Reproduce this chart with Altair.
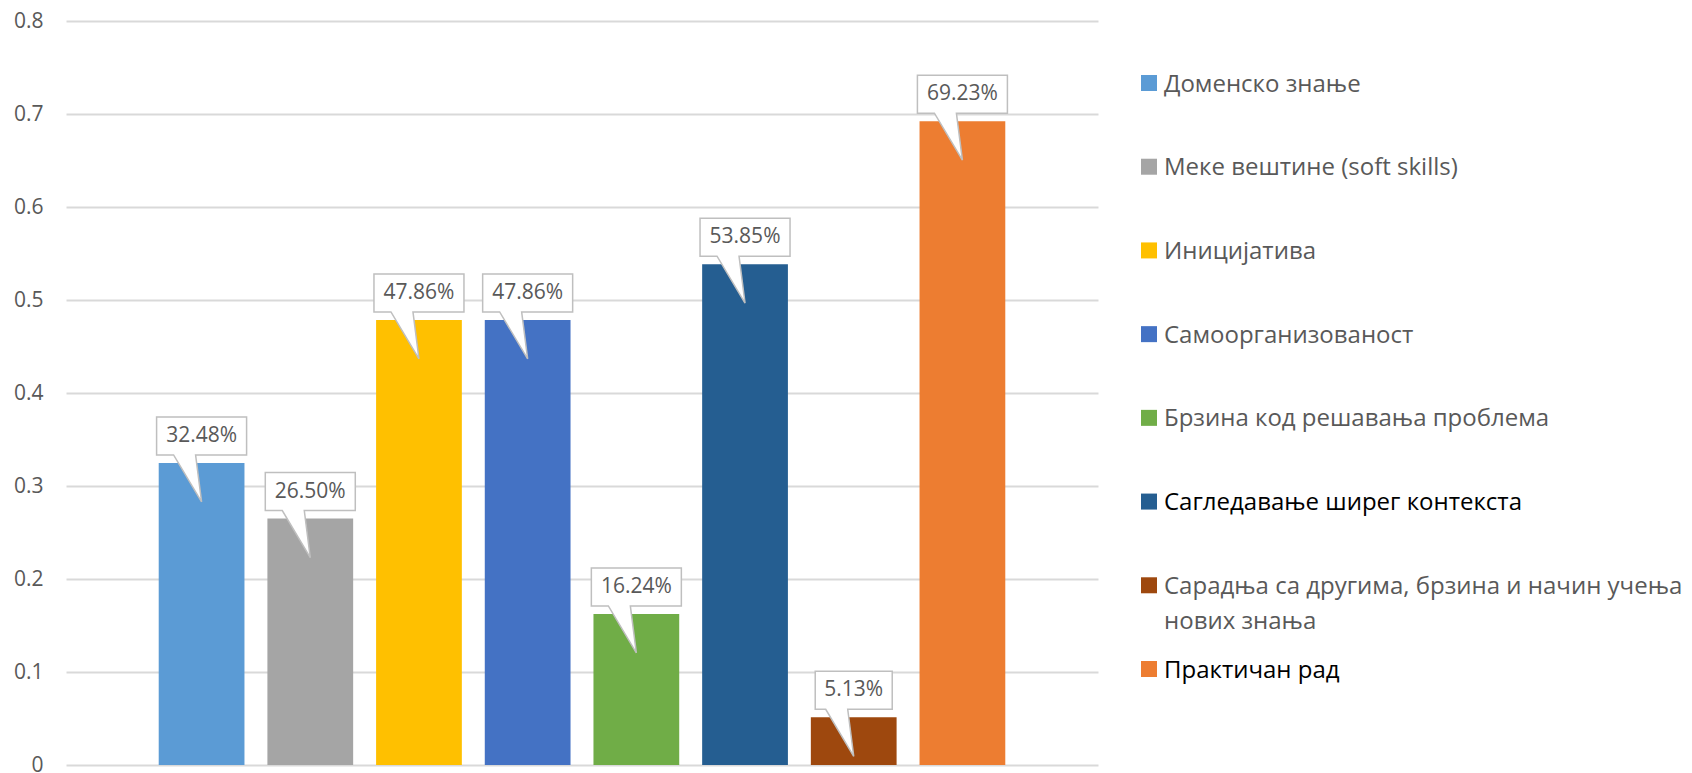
import altair as alt
import pandas as pd

categories = [
    "Доменско знање",
    "Меке вештине (soft skills)",
    "Иницијатива",
    "Самоорганизованост",
    "Брзина код решавања проблема",
    "Сагледавање ширег контекста",
    "Сарадња са другима, брзина и начин учења нових знања",
    "Практичан рад",
]
legend_labels = [
    "Доменско знање",
    "Меке вештине (soft skills)",
    "Иницијатива",
    "Самоорганизованост",
    "Брзина код решавања проблема",
    "Сагледавање ширег контекста",
    "Сарадња са другима, брзина и начин учења\nнових знања",
    "Практичан рад",
]
values = [0.3248, 0.2650, 0.4786, 0.4786, 0.1624, 0.5385, 0.0513, 0.6923]
value_labels = ["32.48%", "26.50%", "47.86%", "47.86%", "16.24%", "53.85%", "5.13%", "69.23%"]
y_ticks = [0, 0.1, 0.2, 0.3, 0.4, 0.5, 0.6, 0.7, 0.8]

palette = ["#5b9bd5", "#a5a5a5", "#ffc000", "#4472c4", "#70ad47", "#255e91", "#9e480e", "#ed7d31"]
legend_dark = {"Сагледавање ширег контекста", "Практичан рад"}

FONT = "Open Sans"
GREY = "#595959"


def callout_path(label):
    # callout outline in unit coords (1 unit = 50px with size 10000)
    hw = 0.9 if len(label) >= 6 else 0.77
    return (f"M{-hw},-0.92 L{hw},-0.92 L{hw},-0.16 L-0.12,-0.16 "
            f"L0,0.78 L-0.56,-0.16 L{-hw},-0.16 Z")


df = pd.DataFrame({
    "cat": categories,
    "value": values,
    "label": value_labels,
    "shape": [callout_path(l) for l in value_labels],
    "legend": legend_labels,
    "tcol": ["#000000" if c in legend_dark else GREY for c in categories],
})

xscale = alt.Scale(paddingInner=0.211, paddingOuter=0.853)
yscale = alt.Scale(domain=[0, 0.8], nice=False)
color = alt.Color("cat:N", sort=categories,
                  scale=alt.Scale(domain=categories, range=palette), legend=None)

x_enc = alt.X("cat:N", sort=categories, scale=xscale, axis=None)

bars = alt.Chart(df).mark_bar().encode(
    x=x_enc,
    y=alt.Y("value:Q", scale=yscale,
            axis=alt.Axis(values=y_ticks, format="~g", title=None,
                          labelFont=FONT, labelFontSize=21, labelColor=GREY,
                          labelPadding=23, ticks=False, tickSize=0, domain=False,
                          grid=True, gridColor="#d9d9d9", gridWidth=2)),
    color=color,
)

callouts = alt.Chart(df).mark_point(
    filled=True, fill="white", stroke="#bfbfbf", strokeWidth=1.5,
    size=10000, opacity=1,
).encode(
    x=x_enc,
    y=alt.Y("value:Q", scale=yscale),
    shape=alt.Shape("shape:N", scale=None),
)

texts = alt.Chart(df).mark_text(
    font=FONT, fontSize=21, color=GREY, baseline="middle", align="center", dy=-27,
).encode(
    x=x_enc,
    y=alt.Y("value:Q", scale=yscale),
    text="label:N",
)

main = alt.layer(bars, callouts, texts)

ly = alt.Y("cat:N", sort=categories,
           scale=alt.Scale(type="point", range=[62, 648], padding=0), axis=None)

leg_sq = alt.Chart(df).mark_square(size=256, opacity=1).encode(
    x=alt.value(1083),
    y=ly,
    color=color,
)
leg_txt = alt.Chart(df).mark_text(
    font=FONT, fontSize=24, align="left", baseline="alphabetic", dy=8.5,
    lineBreak="\n", lineHeight=35,
).encode(
    x=alt.value(1098),
    y=ly,
    text="legend:N",
    color=alt.Color("tcol:N", scale=None),
)
legend = alt.layer(leg_sq, leg_txt)

chart = alt.layer(main, legend).resolve_scale(
    x="independent", y="independent"
).properties(
    width=1032, height=744,
    autosize=alt.AutoSizeParams(type="none"),
    padding={"left": 58, "top": 13, "right": 586, "bottom": 8},
).configure_view(stroke=None)

chart.save("out.html", embed_options={"renderer": "svg", "actions": False})
